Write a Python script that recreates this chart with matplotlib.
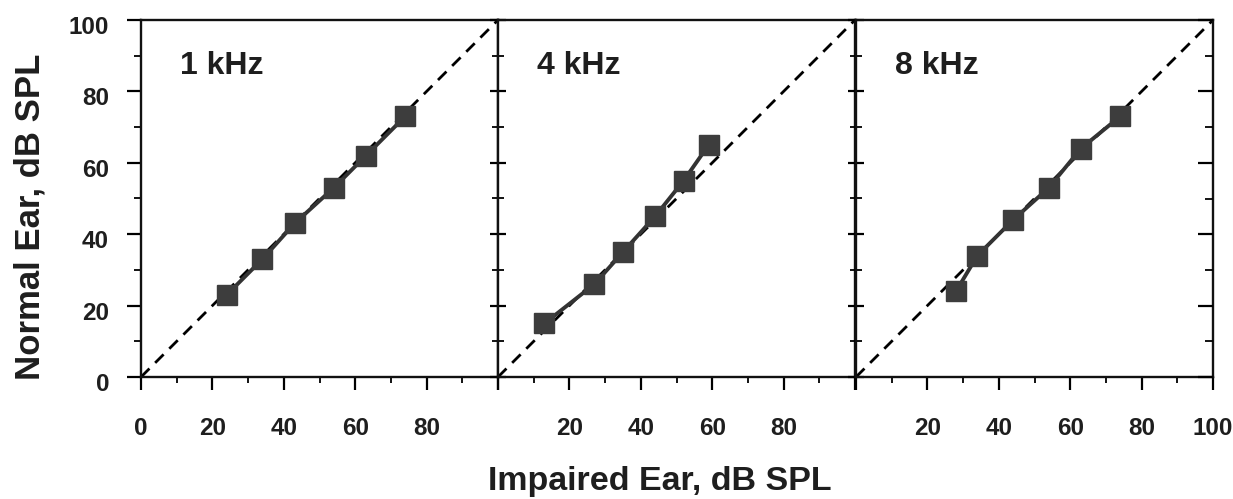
import matplotlib
matplotlib.use("Agg")
import matplotlib.pyplot as plt
import matplotlib.transforms as mtransforms
from matplotlib.ticker import MultipleLocator, FixedLocator

plt.rcParams['font.family'] = ['Liberation Sans', 'DejaVu Sans']
plt.rcParams['font.weight'] = 'bold'

panel_labels = ["1 kHz", "4 kHz", "8 kHz"]
impaired_1k = [24, 34, 43, 54, 63, 74]
normal_1k = [23, 33, 43, 53, 62, 73]
impaired_4k = [13, 27, 35, 44, 52, 59]
normal_4k = [15, 26, 35, 45, 55, 65]
impaired_8k = [28, 34, 44, 54, 63, 74]
normal_8k = [24, 34, 44, 53, 64, 73]
xtick_labels = [[0, 20, 40, 60, 80], [20, 40, 60, 80], [20, 40, 60, 80, 100]]
ytick_labels = [0, 20, 40, 60, 80, 100]

xs = [impaired_1k, impaired_4k, impaired_8k]
ys = [normal_1k, normal_4k, normal_8k]

W, H = 1233, 499
fig = plt.figure(figsize=(W / 100, H / 100), dpi=100)
lefts = [141, 498, 856]
pw = 357
bottom_px, top_px = 377, 20
axes = []
for i in range(3):
    ax = fig.add_axes([lefts[i] / W, 1 - bottom_px / H, pw / W, (bottom_px - top_px) / H])
    axes.append(ax)

tick_fs = 17.5
text_color = '#1e1e1e'
all_major = [0, 20, 40, 60, 80, 100]
for i, ax in enumerate(axes):
    ax.set_xlim(0, 100)
    ax.set_ylim(0, 100)
    ax.plot([0, 100], [0, 100], color='black', lw=2.0, dashes=(4.3, 2.9), zorder=1)
    ax.plot(xs[i], ys[i], color='#333333', lw=2.8, marker='s', markersize=14,
            markerfacecolor='#3d3d3d', markeredgecolor='#3d3d3d', zorder=3)
    ax.text(11, 87, panel_labels[i], fontsize=23, fontweight='bold', color=text_color,
            ha='left', va='center')
    for s in ax.spines.values():
        s.set_linewidth(1.7)
        s.set_color('#111111')
    ax.xaxis.set_major_locator(FixedLocator(all_major))
    ax.xaxis.set_minor_locator(MultipleLocator(10))
    ax.set_xticklabels([str(v) if v in xtick_labels[i] else '' for v in all_major])
    ax.tick_params(axis='x', which='major', direction='out', length=9.5, width=1.6,
                   labelsize=tick_fs, pad=19, top=False)
    ax.tick_params(axis='x', which='minor', direction='out', length=4.5, width=1.3, top=False)
    ax.yaxis.set_major_locator(MultipleLocator(20))
    ax.yaxis.set_minor_locator(MultipleLocator(10))
    if i == 0:
        ax.set_yticks(ytick_labels)
        ax.set_yticklabels([str(v) for v in ytick_labels])
        ax.tick_params(axis='y', which='major', direction='out', length=10, width=1.6,
                       labelsize=tick_fs, pad=13, right=False)
        ax.tick_params(axis='y', which='minor', direction='out', length=5, width=1.3, right=False)
        offset = mtransforms.ScaledTranslation(0, -5 / 100, fig.dpi_scale_trans)
        for lab in ax.get_yticklabels():
            lab.set_transform(lab.get_transform() + offset)
    else:
        ax.tick_params(axis='y', which='major', direction='inout', length=12, width=1.6,
                       labelleft=False, right=False)
        ax.tick_params(axis='y', which='minor', direction='inout', length=8, width=1.3,
                       right=False)
    for lab in ax.get_xticklabels() + ax.get_yticklabels():
        lab.set_fontweight('bold')
        lab.set_color(text_color)

# Right spine ticks of last panel pointing inward
ax3r = axes[2].twinx()
ax3r.set_ylim(0, 100)
ax3r.yaxis.set_major_locator(MultipleLocator(20))
ax3r.yaxis.set_minor_locator(MultipleLocator(10))
ax3r.tick_params(axis='y', which='major', direction='in', length=11, width=1.6, labelright=False)
ax3r.tick_params(axis='y', which='minor', direction='in', length=6, width=1.3)
for s in ax3r.spines.values():
    s.set_visible(False)

fig.text(660 / W, 1 - 490 / H, "Impaired Ear, dB SPL", fontsize=24.5, fontweight='bold',
         color=text_color, ha='center', va='baseline')
fig.text(30 / W, 1 - 217 / H, "Normal Ear, dB SPL", fontsize=25, fontweight='bold',
         color=text_color, ha='center', va='center', rotation=90)

fig.savefig("out.png", dpi=100, facecolor='white')
